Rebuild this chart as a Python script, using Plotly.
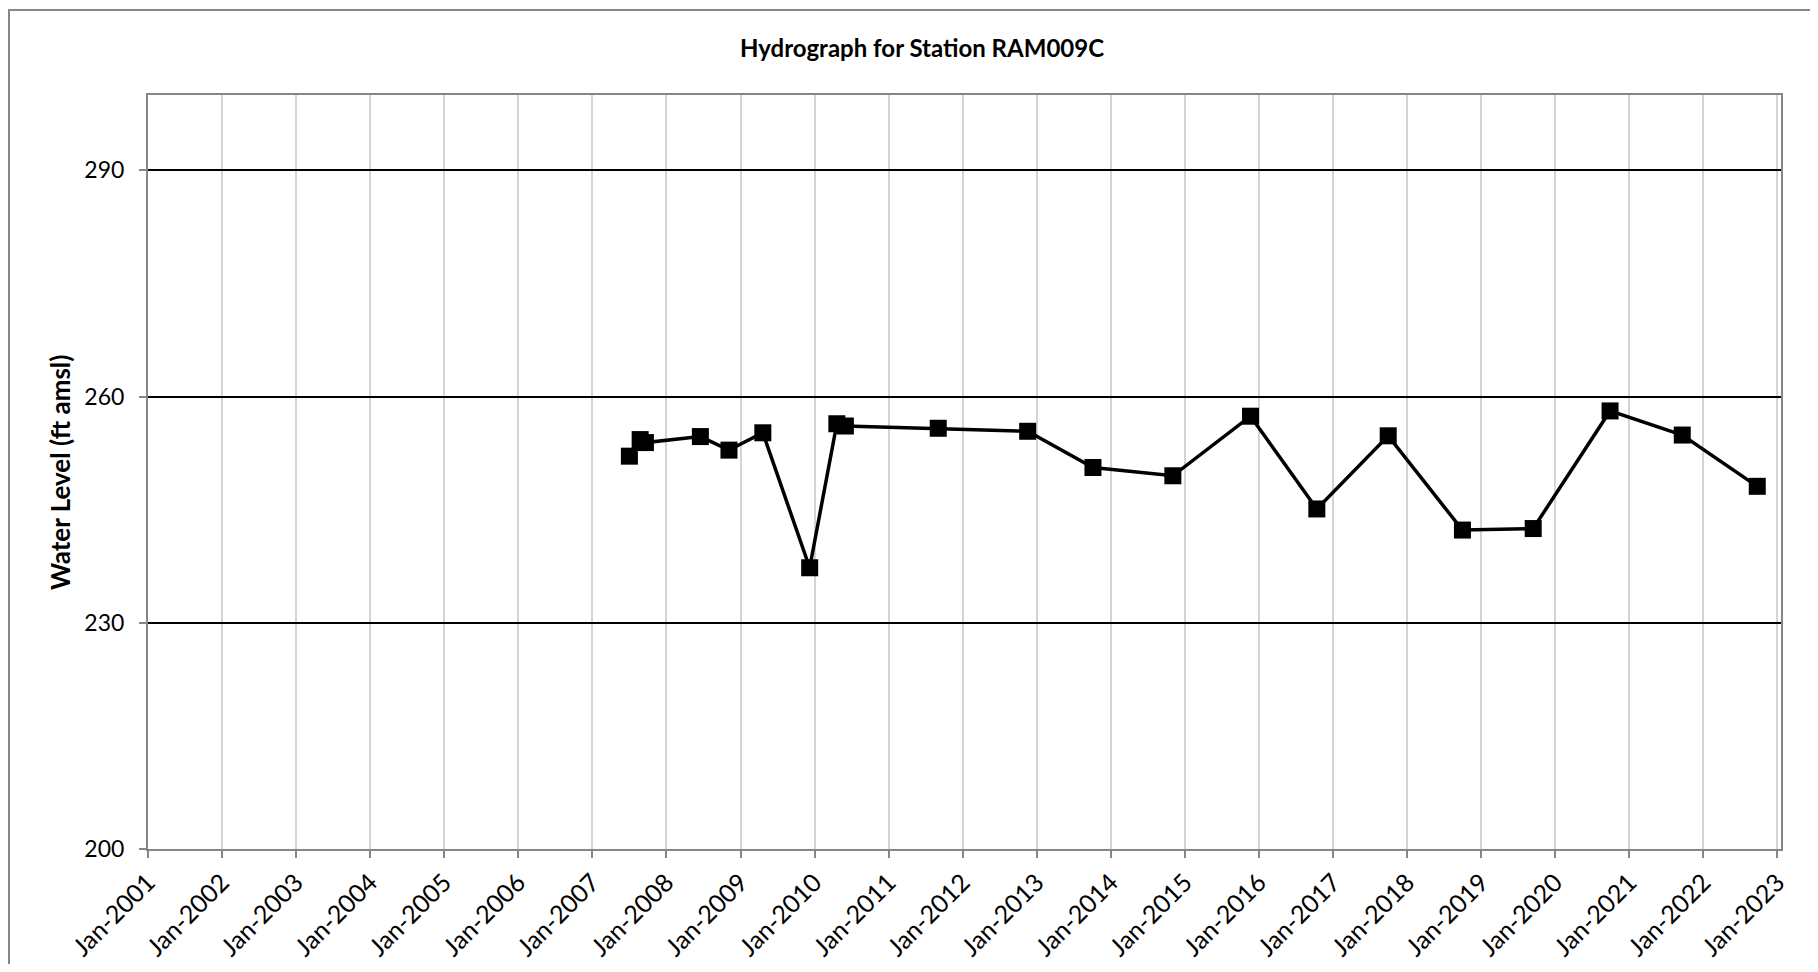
import plotly.graph_objects as go

# ---- data ----
dates = [
    "2007-07-03", "2007-08-25", "2007-09-20", "2008-06-17", "2008-11-05",
    "2009-04-21", "2009-12-08", "2010-04-21", "2010-06-02", "2011-09-03",
    "2012-11-17", "2013-10-05", "2014-11-03", "2015-11-21", "2016-10-13",
    "2017-09-30", "2018-10-01", "2019-09-15", "2020-09-28", "2021-09-19",
    "2022-09-24",
]
water_level = [
    252.1, 254.3, 253.9, 254.7, 252.9,
    255.2, 237.3, 256.4, 256.1, 255.8,
    255.4, 250.6, 249.5, 257.4, 245.1,
    254.8, 242.3, 242.5, 258.1, 254.9,
    248.1,
]
title_text = "Hydrograph for Station RAM009C"
y_title_text = "Water Level (ft amsl)"
x_range = ["2001-01-01", "2023-01-19"]
y_range = [200, 300]

# figure sits inside the page's default 8px body margin
W, H = 1802, 956
L, T = 140, 87
R = W - 1773
B = H - 841
pw, ph = W - L - R, H - T - B

FONT = "Lato"
AXIS_GRAY = "#868686"

fig = go.Figure()
fig.add_trace(go.Scatter(
    x=dates, y=water_level, mode="lines+markers",
    line=dict(color="black", width=3.5),
    marker=dict(symbol="square", size=17, color="black"),
    showlegend=False,
))

fig.update_layout(
    width=W, height=H,
    margin=dict(l=L, r=R, t=T, b=B, autoexpand=False),
    paper_bgcolor="white", plot_bgcolor="white",
    font=dict(family=FONT, color="black"),
)

fig.update_xaxes(
    type="date", range=x_range, tick0="2001-01-01", dtick="M12",
    tickformat="%b-%Y", tickangle=-45,
    showgrid=True, gridcolor="#d4d4d4", gridwidth=1.5,
    showline=True, linecolor=AXIS_GRAY, linewidth=2, mirror=True,
    ticks="outside", ticklen=7, tickcolor=AXIS_GRAY, tickwidth=1.5,
    tickfont=dict(family=FONT, size=25, color="black"),
    zeroline=False,
)
fig.update_yaxes(
    range=y_range, tick0=200, dtick=30,
    showgrid=True, gridcolor="black", gridwidth=2,
    showline=True, linecolor=AXIS_GRAY, linewidth=2, mirror=True,
    ticks="outside", ticklen=7, tickcolor=AXIS_GRAY, tickwidth=1.5,
    tickfont=dict(family=FONT, size=23, color="black"),
    ticklabelstandoff=10,
    zeroline=False,
)

# chart title
fig.add_annotation(
    text="<b>" + title_text + "</b>", xref="paper", yref="paper",
    x=(914 - L) / pw, y=(H - B - 39.5) / ph, xanchor="center", yanchor="middle",
    showarrow=False, font=dict(family=FONT, size=24, color="black"),
)
# y-axis title
fig.add_annotation(
    text="<b>" + y_title_text + "</b>", xref="paper", yref="paper",
    x=(52 - L) / pw, y=(H - B - 465) / ph, xanchor="center", yanchor="middle",
    textangle=-90, showarrow=False, font=dict(family=FONT, size=26, color="black"),
)

# outer chart-area frame (extends past the right/bottom edges of the window)
fig.add_shape(
    type="rect", xref="paper", yref="paper",
    x0=(1 - L) / pw, x1=(W + 40 - L) / pw,
    y0=(H - B - (H + 40)) / ph, y1=(H - B - 2) / ph,
    line=dict(color=AXIS_GRAY, width=2), fillcolor="rgba(0,0,0,0)", layer="below",
)

fig.write_html("out.html")
